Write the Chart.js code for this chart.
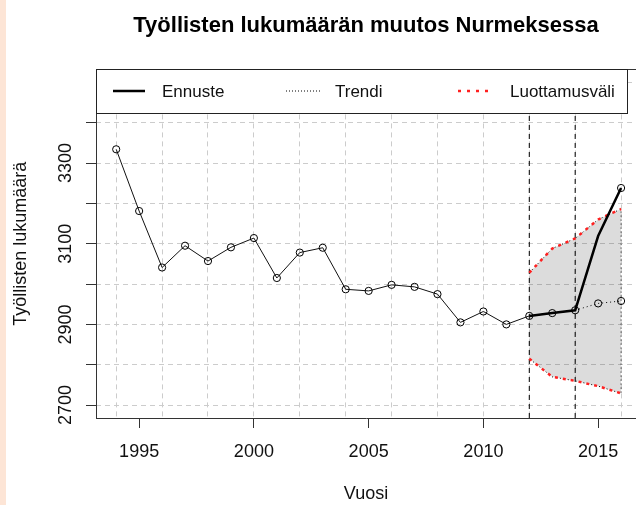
<!DOCTYPE html>
<html lang="fi">
<head>
  <meta charset="UTF-8" />
  <title>Työllisten lukumäärän muutos Nurmeksessa</title>
  <script src="https://cdn.jsdelivr.net/npm/chart.js"></script>
  <style>
    html, body { margin: 0; padding: 0; overflow: hidden; background: #fff; }
    #strip { position: absolute; left: 0; top: 0; width: 6px; height: 505px; background: #fde5d6; z-index: 2; }
    #wrap { position: absolute; left: 0; top: 0; width: 636px; height: 505px; }
  </style>
</head>
<body>
  <div id="strip"></div>
  <div id="wrap"><canvas id="chart" width="636" height="505"></canvas></div>

  <script>
    // Havainnot (vuodet 1994-2014)
    const years = [1994, 1995, 1996, 1997, 1998, 1999, 2000, 2001, 2002, 2003, 2004,
                   2005, 2006, 2007, 2008, 2009, 2010, 2011, 2012, 2013, 2014];
    const employed = [3334, 3181, 3041, 3095, 3057, 3091, 3114, 3015, 3078, 3090, 2987,
                      2983, 2998, 2993, 2975, 2905, 2932, 2900, 2921, 2928, 2935];

    // Ennuste, trendi ja luottamusväli
    const forecastYears = [2012, 2013, 2014, 2015, 2016];
    const forecast = [2921, 2928, 2935, 3119, 3238];
    const trendYears = [2014, 2015, 2016];
    const trend = [2935, 2952, 2958];
    const bandYears = [2012, 2013, 2014, 2015, 2016];
    const upper = [3028, 3088, 3113, 3160, 3186];
    const lower = [2815, 2770, 2760, 2747, 2729];
    const splitYears = [2012, 2014];

    // akselit
    const xTicks = [1995, 2000, 2005, 2010, 2015];
    const xGrid = [1994, 1996, 1998, 2000, 2002, 2004, 2006, 2008, 2010, 2012, 2014, 2016];
    const yTicks = [2700, 2800, 2900, 3000, 3100, 3200, 3300, 3400];
    const yLabels = [2700, 2900, 3100, 3300];
    const yGrid = [2700, 2800, 2900, 3000, 3100, 3200, 3300, 3400, 3500];
    const legendLabels = ['Ennuste', 'Trendi', 'Luottamusväli'];

    // the R plot region runs past the right edge of the picture
    const X_MIN = 1993.12, X_MAX = 2016.65;
    const Y_MIN = 2668, Y_MAX = 3532;

    Chart.defaults.font.family = '"Liberation Sans", Arial, sans-serif';
    Chart.defaults.color = '#111';

    const pts = (xs, ys) => xs.map((x, i) => ({ x: x, y: ys[i] }));
    const vline = x => [{ x: x, y: Y_MIN }, { x: x, y: Y_MAX }];

    // top edge of the box, rotated y labels and the legend
    const rPlot = {
      id: 'rPlot',
      afterDatasetsDraw(chart) {
        const ctx = chart.ctx, a = chart.chartArea;
        ctx.save();
        ctx.strokeStyle = '#333';
        ctx.lineWidth = 1;
        ctx.beginPath();
        ctx.moveTo(Math.round(a.left) + 0.5, Math.round(a.top) + 0.5);
        ctx.lineTo(a.right + 10, Math.round(a.top) + 0.5);
        ctx.stroke();

        // y tick labels, rotated like R
        const ys = chart.scales.y;
        ctx.fillStyle = '#111';
        ctx.font = '18px "Liberation Sans", Arial, sans-serif';
        ctx.textAlign = 'center';
        ctx.textBaseline = 'alphabetic';
        yLabels.forEach(v => {
          ctx.save();
          ctx.translate(70.5, ys.getPixelForValue(v));
          ctx.rotate(-Math.PI / 2);
          ctx.fillText(String(v), 0, 0);
          ctx.restore();
        });

        // legend box
        const lx0 = Math.round(a.left) + 0.5, ly0 = Math.round(a.top) + 0.5;
        const lx1 = 627.5, ly1 = 113.5;
        ctx.fillStyle = '#fff';
        ctx.fillRect(lx0, ly0, lx1 - lx0, ly1 - ly0);
        ctx.strokeStyle = '#222';
        ctx.strokeRect(lx0, ly0, lx1 - lx0, ly1 - ly0);

        const sample = [[113, 145], [286, 320], [458, 493]];
        const textX = [162, 335, 510];
        const styles = [
          { c: '#000', w: 2.5, d: [] },
          { c: '#000', w: 1, d: [1, 2] },
          { c: '#ff2020', w: 2.5, d: [3, 6] }
        ];
        const ly = 91;
        legendLabels.forEach((t, i) => {
          ctx.beginPath();
          ctx.strokeStyle = styles[i].c;
          ctx.lineWidth = styles[i].w;
          ctx.setLineDash(styles[i].d);
          ctx.moveTo(sample[i][0], ly);
          ctx.lineTo(sample[i][1], ly);
          ctx.stroke();
          ctx.setLineDash([]);
          ctx.fillStyle = '#111';
          ctx.font = '17px "Liberation Sans", Arial, sans-serif';
          ctx.textAlign = 'left';
          ctx.textBaseline = 'middle';
          ctx.fillText(t, textX[i], ly + 1);
        });
        ctx.restore();
      }
    };

    new Chart(document.getElementById('chart'), {
      type: 'line',
      data: {
        datasets: [
          {
            label: 'Havainnot',
            data: pts(years, employed),
            borderColor: '#111', borderWidth: 1,
            pointRadius: 3.6, pointBorderColor: '#000', pointBorderWidth: 1,
            pointBackgroundColor: 'rgba(0,0,0,0)',
            order: 2
          },
          {
            label: 'Ennuste',
            data: pts(forecastYears, forecast),
            borderColor: '#000', borderWidth: 2.5,
            pointRadius: ctx => ctx.dataIndex === forecast.length - 1 ? 3.6 : 0,
            pointBorderColor: '#000', pointBorderWidth: 1,
            pointBackgroundColor: 'rgba(0,0,0,0)',
            order: 1
          },
          {
            label: 'Trendi',
            data: pts(trendYears, trend),
            borderColor: '#000', borderWidth: 1, borderDash: [1, 3],
            pointRadius: ctx => ctx.dataIndex > 0 ? 3.6 : 0,
            pointBorderColor: '#000', pointBorderWidth: 1,
            pointBackgroundColor: 'rgba(0,0,0,0)',
            order: 3
          },
          {
            label: 'Luottamusväli (ylä)',
            data: pts(bandYears, upper),
            borderColor: '#ff2020', borderWidth: 2.5, borderDash: [3, 5],
            pointRadius: 0, order: 4
          },
          {
            label: 'Luottamusväli (ala)',
            data: pts(bandYears, lower),
            borderColor: '#ff2020', borderWidth: 2.5, borderDash: [3, 5],
            pointRadius: 0, order: 4
          },
          {
            label: 'Luottamusalue',
            data: pts(bandYears, upper).concat(pts(bandYears, lower).reverse()),
            fill: 'shape',
            backgroundColor: 'rgba(0,0,0,0.137)',
            borderColor: '#000', borderWidth: 1, borderDash: [1, 3],
            pointRadius: 0, order: 6
          },
          {
            label: 'raja 1',
            data: vline(splitYears[0]),
            borderColor: '#000', borderWidth: 1, borderDash: [5, 4],
            pointRadius: 0, order: 5
          },
          {
            label: 'raja 2',
            data: vline(splitYears[1]),
            borderColor: '#000', borderWidth: 1, borderDash: [5, 4],
            pointRadius: 0, order: 5
          }
        ]
      },
      options: {
        responsive: false,
        devicePixelRatio: 1,
        animation: false,
        layout: { padding: 0, autoPadding: false },
        plugins: {
          legend: { display: false },
          tooltip: { enabled: false },
          title: {
            display: true,
            text: 'Työllisten lukumäärän muutos Nurmeksessa',
            fullSize: false,
            color: '#000',
            font: { size: 22, weight: 'bold' },
            padding: { top: 13, bottom: 30 }
          }
        },
        scales: {
          x: {
            type: 'linear', position: 'bottom', min: X_MIN, max: X_MAX,
            afterBuildTicks: s => { s.ticks = xTicks.map(v => ({ value: v })); },
            afterFit: s => { s.height = 87; },
            grid: { drawOnChartArea: false, drawTicks: true, tickLength: 10, color: '#333' },
            border: { display: true, color: '#333' },
            ticks: { font: { size: 18 }, padding: 13, maxRotation: 0, autoSkip: false,
                     callback: v => String(v) },
            title: { display: true, text: 'Vuosi', font: { size: 18 }, padding: { top: 0, bottom: 0 } }
          },
          xg: {
            type: 'linear', position: 'bottom', min: X_MIN, max: X_MAX,
            afterBuildTicks: s => { s.ticks = xGrid.map(v => ({ value: v })); },
            afterFit: s => { s.height = 0; },
            grid: { color: '#cccccc', drawTicks: false },
            border: { display: false, dash: [5, 4] },
            ticks: { display: false }
          },
          y: {
            type: 'linear', position: 'left', min: Y_MIN, max: Y_MAX,
            afterBuildTicks: s => { s.ticks = yTicks.map(v => ({ value: v })); },
            afterFit: s => { s.width = 96; },
            grid: { drawOnChartArea: false, drawTicks: true, tickLength: 10, color: '#333' },
            border: { display: true, color: '#333' },
            ticks: { display: false },
            title: { display: true, text: 'Työllisten lukumäärä', font: { size: 18 }, padding: { top: 10 } }
          },
          yg: {
            type: 'linear', position: 'left', min: Y_MIN, max: Y_MAX,
            afterBuildTicks: s => { s.ticks = yGrid.map(v => ({ value: v })); },
            afterFit: s => { s.width = 0; },
            grid: { color: '#cccccc', drawTicks: false },
            border: { display: false, dash: [5, 4] },
            ticks: { display: false }
          }
        }
      },
      plugins: [rPlot]
    });
  </script>
</body>
</html>
